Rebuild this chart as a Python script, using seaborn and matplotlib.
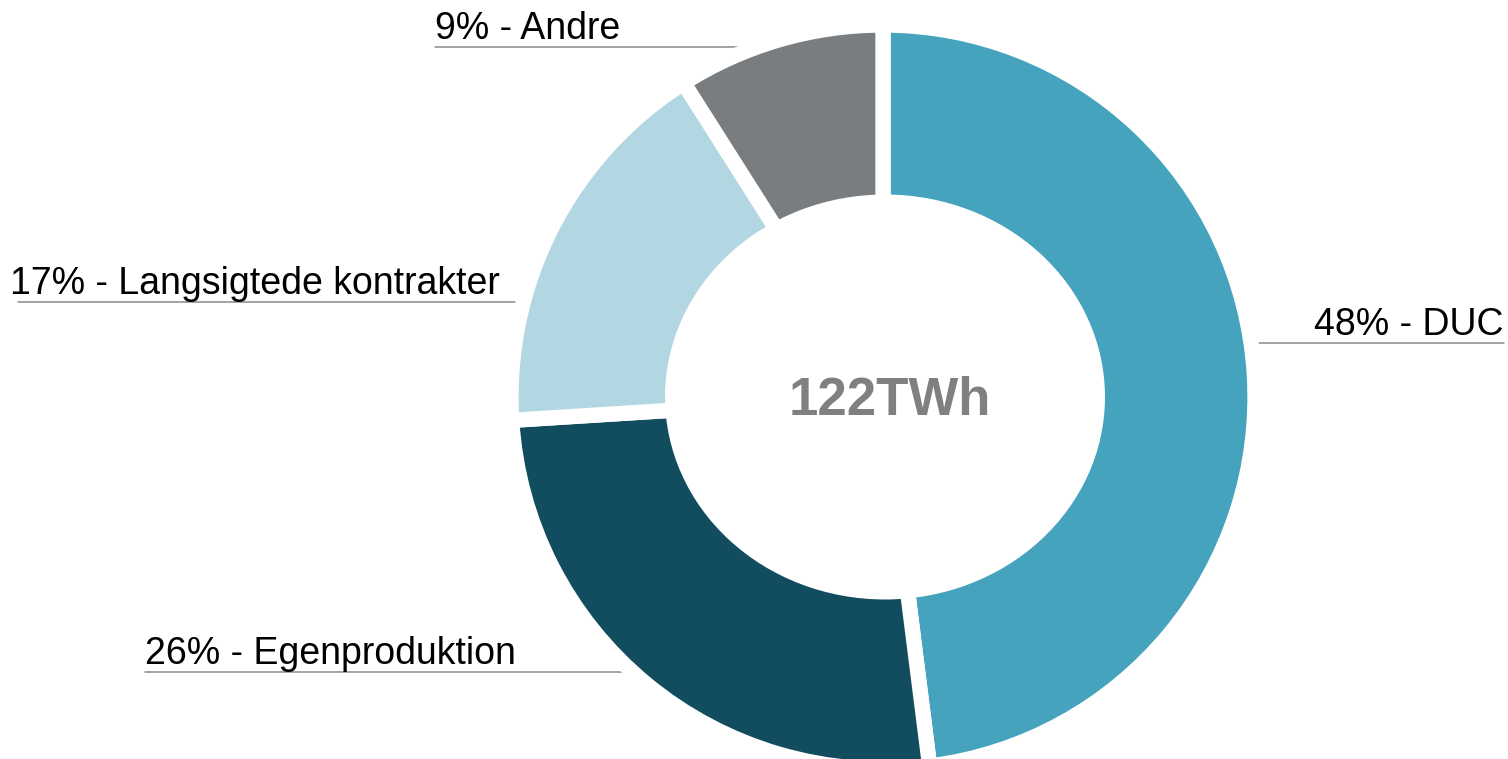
import matplotlib
matplotlib.use("Agg")
import matplotlib.pyplot as plt
from matplotlib.patches import Ellipse
import seaborn as sns

# data
labels = ["DUC", "Egenproduktion", "Langsigtede kontrakter", "Andre"]
shares = [48, 26, 17, 9]
colors = ["#45a3bd", "#124c5f", "#b3d7e2", "#7a7d80"]
total_text = "122TWh"

# label layout (pixel coords, y from top): line y, line x0, line x1, text x, align
label_pos = {
    "DUC": (343, 1240, 1504, 1503, "right"),
    "Egenproduktion": (672, 145, 650, 145, "left"),
    "Langsigtede kontrakter": (302, 18, 533, 10, "left"),
    "Andre": (47, 435, 770, 435, "left"),
}

W, H = 1508, 759
sns.set_theme(style="white")
plt.rcParams['font.family'] = ['Liberation Sans', 'DejaVu Sans']

fig = plt.figure(figsize=(W / 100, H / 100), dpi=100)
ax = fig.add_axes([0, 0, 1, 1])

cx, cy = 883, H - 397

# leader lines behind the donut
for lab in labels:
    ly, x0, x1, tx, ha = label_pos[lab]
    ax.plot([x0, x1], [H - ly, H - ly], color="#8c8c8c", lw=1.1, zorder=1)

wedges, _ = ax.pie(shares, colors=colors, startangle=90, counterclock=False,
                   center=(cx, cy), radius=372, frame=True,
                   wedgeprops=dict(edgecolor="white", linewidth=11))
for w in wedges:
    w.set_zorder(2)
ax.set_xlim(0, W)
ax.set_ylim(0, H)
ax.set_aspect("equal")
ax.axis("off")

# hole
ax.add_patch(Ellipse((cx + 2, cy), 440, 405, facecolor="white", edgecolor="none", zorder=3))

ax.text(cx + 7, cy - 4, total_text, ha="center", va="center", fontsize=38,
        fontweight="bold", color="#808080", zorder=4)

for lab, s in zip(labels, shares):
    ly, x0, x1, tx, ha = label_pos[lab]
    ax.text(tx, H - ly + 8, f"{s}% - {lab}", ha=ha, va="baseline",
            fontsize=27, color="black", zorder=4)

fig.savefig("out.png", dpi=100)
